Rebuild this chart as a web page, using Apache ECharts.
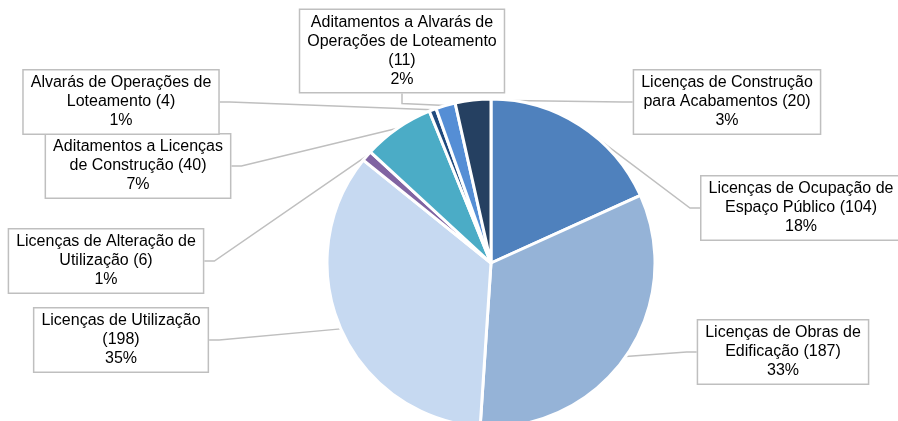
<!DOCTYPE html>
<html>
<head>
<meta charset="utf-8">
<script src="https://cdn.jsdelivr.net/npm/echarts@6/dist/echarts.min.js"></script>
<style>
  html, body { margin: 0; padding: 0; background: #fff; }
  #chart { width: 898px; height: 421px; }
</style>
</head>
<body>
<div id="chart"></div>
<script>
// label text as wrapped in the original (value + percent appended below)
const labelNames = [
  'Licenças de Ocupação de\nEspaço Público ',
  'Licenças de Obras de\nEdificação ',
  'Licenças de Utilização\n',
  'Licenças de Alteração de\nUtilização ',
  'Aditamentos a Licenças\nde Construção ',
  'Alvarás de Operações de\nLoteamento ',
  'Aditamentos a Alvarás de\nOperações de Loteamento\n',
  'Licenças de Construção\npara Acabamentos '
]
const values = [104, 187, 198, 6, 40, 4, 11, 20]
const colors = ['#4F81BD', '#95B3D7', '#C6D9F1', '#8064A2', '#4BACC6', '#1F497D', '#558ED5', '#254061']

// where each callout box sits (center of box)
const labelPos = [
  [801, 208], [783, 352], [121, 340], [106, 261],
  [138, 166], [121, 102], [402, 51], [727, 102]
]

const chart = echarts.init(document.getElementById('chart'))

chart.setOption({
  animation: false,
  series: [{
    type: 'pie',
    center: [491, 263],
    radius: 164,
    startAngle: 90,
    clockwise: true,
    percentPrecision: 0,
    itemStyle: { borderColor: '#fff', borderWidth: 3 },
    label: {
      show: true,
      position: 'outside',
      formatter: (p) => labelNames[p.dataIndex] + '(' + p.value + ')\n' + p.percent + '%',
      fontFamily: 'Liberation Sans, Arial, sans-serif',
      fontSize: 16,
      lineHeight: 19,
      color: '#000',
      align: 'center',
      backgroundColor: '#fff',
      borderColor: '#BFBFBF',
      borderWidth: 1.5,
      padding: [3, 7, 3, 7]
    },
    labelLine: {
      show: true,
      length: 10,
      length2: 10,
      lineStyle: { color: '#BFBFBF', width: 1.5 }
    },
    labelLayout: (params) => ({
      x: labelPos[params.dataIndex][0],
      y: labelPos[params.dataIndex][1],
      align: 'center',
      verticalAlign: 'middle',
      hideOverlap: false,
      moveOverlap: null
    }),
    data: values.map((v, i) => ({
      name: labelNames[i].replace(/\n/g, ' ').trim(),
      value: v,
      itemStyle: { color: colors[i] }
    }))
  }]
})
</script>
</body>
</html>
